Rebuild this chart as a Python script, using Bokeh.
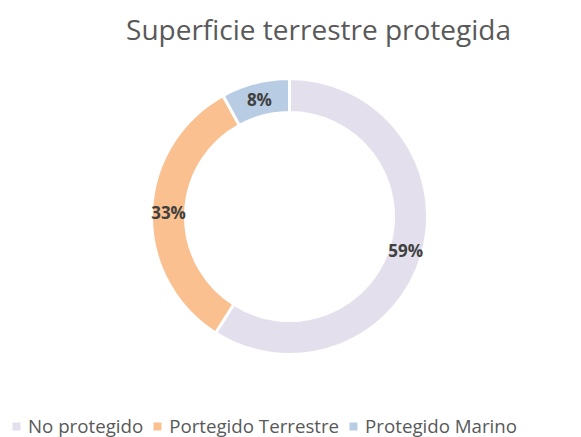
import numpy as np
from bokeh.plotting import figure
from bokeh.models import ColumnDataSource, Range1d, Legend, LegendItem, Label
from bokeh.core.properties import value
from bokeh.embed import file_html
from bokeh.resources import INLINE

title_text = "Superficie terrestre protegida"
categories = ["No protegido", "Portegido Terrestre", "Protegido Marino"]
values = [59, 33, 8]
colors = ["#e4dfec", "#fac08f", "#b8cce4"]

W, H = 581, 437
cx, cy = 289, 221

vals = np.array(values, dtype=float)
frac = vals / vals.sum()
cum = np.concatenate([[0], np.cumsum(frac)])
start = np.pi / 2 - cum[:-1] * 2 * np.pi
end = np.pi / 2 - cum[1:] * 2 * np.pi
mid = (start + end) / 2
r_lab = 121
labels = [f"{v:.0f}%" for v in frac * 100]

src = ColumnDataSource(dict(
    x=[cx] * len(values), y=[cy] * len(values),
    start=start, end=end, color=colors, cat=categories,
    lx=cx + r_lab * np.cos(mid), ly=cy + r_lab * np.sin(mid), lab=labels,
))

p = figure(width=W, height=H, output_backend="svg", toolbar_location=None,
           x_range=Range1d(0, W), y_range=Range1d(0, H), min_border=0)
p.axis.visible = False
p.grid.visible = False
p.outline_line_color = None

p.annular_wedge(x="x", y="y", inner_radius=104, outer_radius=138,
                inner_radius_units="screen", outer_radius_units="screen",
                start_angle="end", end_angle="start", direction="anticlock",
                fill_color="color", line_color="white", line_width=3,
                source=src)

p.text(x="lx", y="ly", text="lab", source=src, text_align="center",
       text_baseline="middle", text_font=value("Open Sans"),
       text_font_style="bold", text_font_size="17px", text_color="#404040")

p.add_layout(Label(x=318, y=H - 28, x_units="screen", y_units="screen",
                   text=title_text, text_align="center", text_baseline="alphabetic",
                   text_font="Open Sans", text_font_size="28px",
                   text_color="#595959"))

# legend swatches (off-screen renderers used only for legend entries)
nan = float("nan")
items = []
for c, col in zip(categories, colors):
    rr = p.quad(left=[nan], right=[nan], top=[nan], bottom=[nan],
                fill_color=col, line_color=None)
    items.append(LegendItem(label=c, renderers=[rr]))
leg = Legend(items=items, orientation="horizontal", location=(11, -1),
             label_text_font="Open Sans", label_text_font_size="18.7px",
             label_text_color="#595959", glyph_width=10, glyph_height=10,
             label_standoff=7, spacing=9, padding=0, margin=0,
             border_line_alpha=0, background_fill_alpha=0)
p.add_layout(leg)

open("out.html", "w").write(file_html(p, INLINE))
